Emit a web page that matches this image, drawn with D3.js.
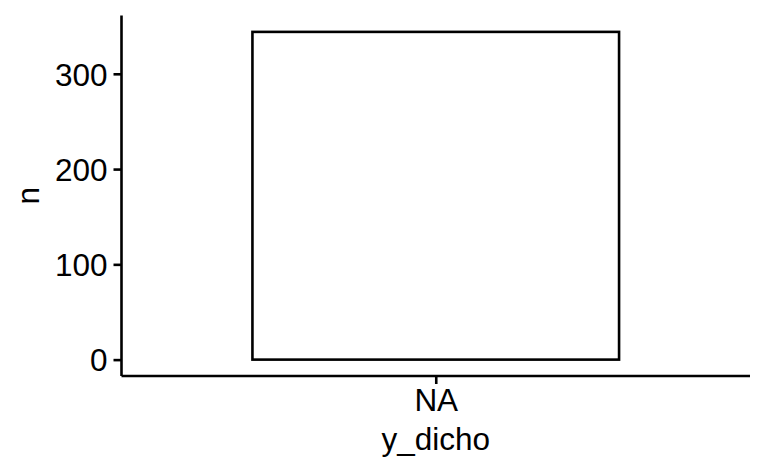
<!DOCTYPE html>
<html><head><meta charset="utf-8">
<script src="https://cdn.jsdelivr.net/npm/d3@7"></script>
<style>body{margin:0;background:#fff}svg{display:block}text{font-family:"Liberation Sans",Arial,sans-serif;fill:#000}</style>
</head><body><svg id="c" width="768" height="474"></svg>
<script>
const categories = ["NA"];
const counts = [344];
const yTicks = [0, 100, 200, 300];
const xTitle = "y_dicho";
const yTitle = "n";

const svg = d3.select("#c");
const L = 121.5, R = 750, T = 15.5, B = 376;
const FS = 31.5, SW = 2.6;
const maxV = d3.max(counts);
const pad = maxV * 0.05;
const y = d3.scaleLinear().domain([-pad, maxV + pad]).range([B, T]);
// ggplot discrete: range [0.4,1.6], bar width 0.7
const xc = d3.scaleLinear().domain([0.4, 1.6]).range([L, R]);
const barW = 0.7;

const g = svg.append("g");
categories.forEach((c, i) => {
  const pos = i + 1;
  g.append("rect")
    .attr("x", xc(pos - barW / 2))
    .attr("width", xc(pos + barW / 2) - xc(pos - barW / 2))
    .attr("y", y(counts[i]))
    .attr("height", y(0) - y(counts[i]))
    .attr("fill", "#fff").attr("stroke", "#000").attr("stroke-width", SW);
});

const yAxis = svg.append("g").attr("transform", `translate(${L},0)`)
  .call(d3.axisLeft(y).tickValues(yTicks).tickSize(8).tickPadding(6));
yAxis.attr("font-size", FS).attr("font-family", '"Liberation Sans",Arial,sans-serif');
yAxis.select(".domain").attr("d", `M0,${B}V${T}`).attr("stroke-width", SW);
yAxis.selectAll(".tick line").attr("stroke-width", SW);
yAxis.selectAll("text").attr("dy", "0.36em");

const xAxis = svg.append("g").attr("transform", `translate(0,${B})`)
  .call(d3.axisBottom(xc).tickValues(categories.map((c, i) => i + 1)).tickFormat((d) => categories[d - 1]).tickSize(8).tickPadding(5));
xAxis.attr("font-size", FS).attr("font-family", '"Liberation Sans",Arial,sans-serif');
xAxis.select(".domain").attr("d", `M${L},0H${R}`).attr("stroke-width", SW);
xAxis.selectAll(".tick line").attr("stroke-width", SW);
xAxis.selectAll("text").attr("dy", "0.71em");

svg.append("text").attr("x", (L + R) / 2).attr("y", 450).attr("text-anchor", "middle")
  .attr("font-size", FS).text(xTitle);
svg.append("text").attr("transform", `translate(38.5,${(T + B) / 2}) rotate(-90)`)
  .attr("text-anchor", "middle").attr("font-size", FS).text(yTitle);
</script></body></html>
